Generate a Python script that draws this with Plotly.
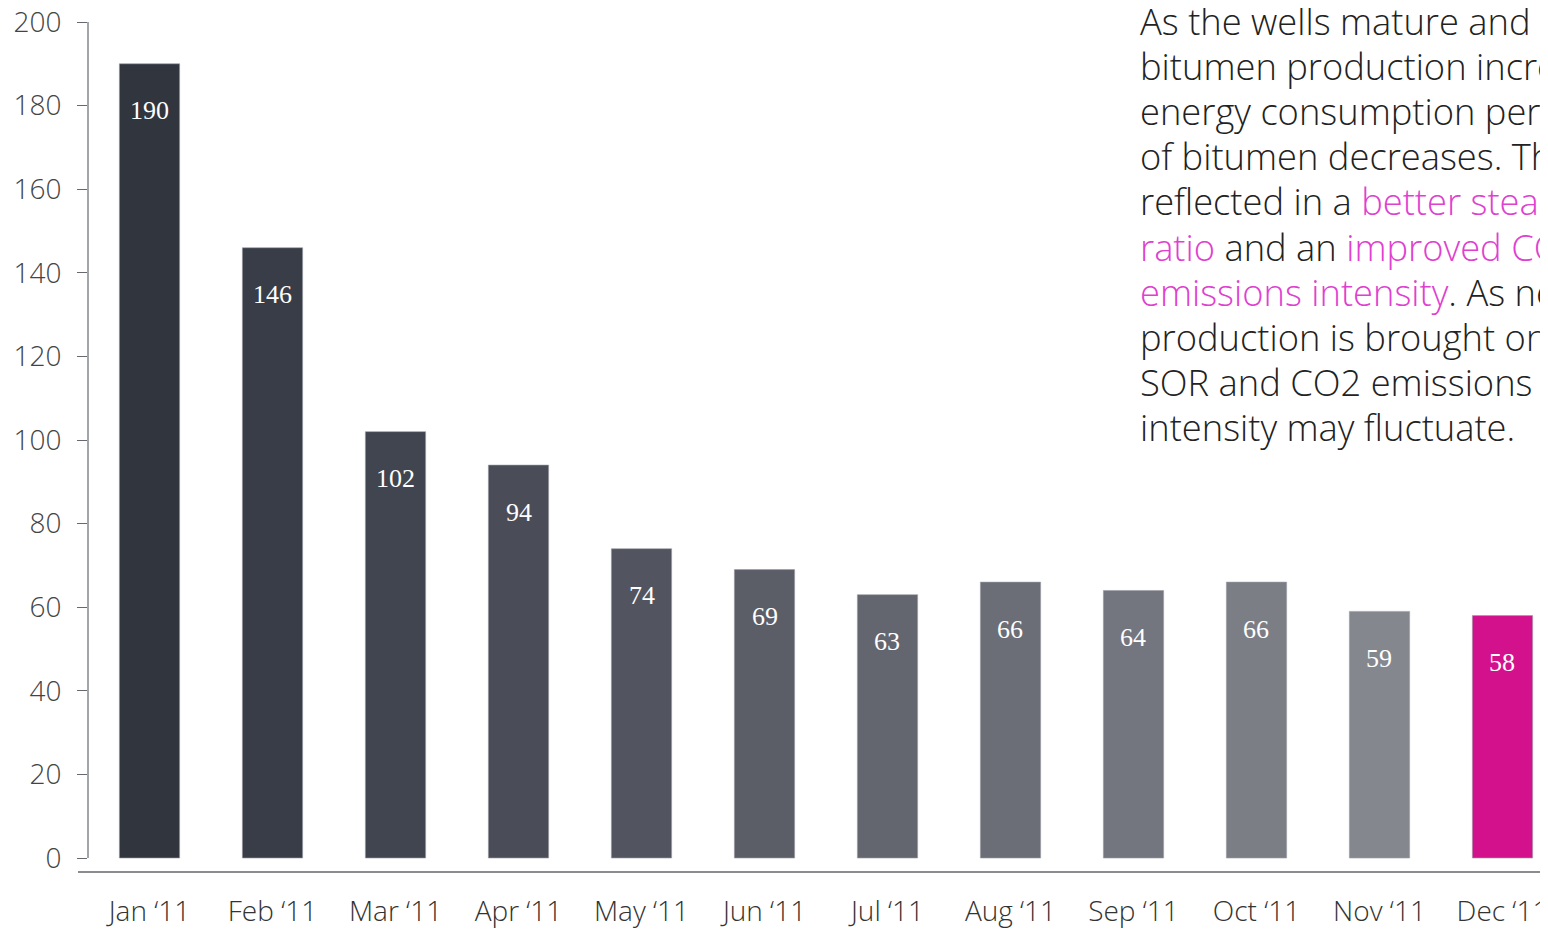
import plotly.graph_objects as go

months = ["Jan ‘11", "Feb ‘11", "Mar ‘11", "Apr ‘11", "May ‘11", "Jun ‘11",
          "Jul ‘11", "Aug ‘11", "Sep ‘11", "Oct ‘11", "Nov ‘11", "Dec ‘11"]
values = [190, 146, 102, 94, 74, 69, 63, 66, 64, 66, 59, 58]
bar_colors = ["#31353e", "#393d47", "#41454f", "#4a4d57", "#52555f", "#5b5d67",
              "#63666e", "#6b6e76", "#73767e", "#7c7e86", "#85878f", "#d4118d"]
y_ticks = [0, 20, 40, 60, 80, 100, 120, 140, 160, 180, 200]

PINK = "#e040d0"
def pink(s):
    return f"<span style='color:{PINK}'>{s}</span>"

text_lines = [
    "As the wells mature and",
    "bitumen production increases,",
    "energy consumption per barrel",
    "of bitumen decreases. This is",
    "reflected in a " + pink("better steam-to-oil"),
    pink("ratio") + " and an " + pink("improved CO2"),
    pink("emissions intensity") + ". As new",
    "production is brought online,",
    "SOR and CO2 emissions",
    "intensity may fluctuate.",
]

# page offset (browser body margin) compensation
OFF = 8
W, H = 1548 - OFF, 931 - OFF
PLOT_TOP, PLOT_BOT, PLOT_LEFT = 22, 872, 88  # page pixels
PLOT_H = PLOT_BOT - PLOT_TOP
PLOT_W = W - (PLOT_LEFT - OFF)

def py(page_y):
    return (PLOT_BOT - page_y) / PLOT_H

def px(page_x):
    return (page_x - PLOT_LEFT) / PLOT_W

fig = go.Figure()
fig.add_trace(go.Bar(
    x=months, y=values, width=0.49,
    marker=dict(color=bar_colors, line=dict(color="#9a9ca4", width=0.6)),
    hoverinfo="x+y", showlegend=False,
))

annotations = []
for m, v in zip(months, values):
    annotations.append(dict(
        x=m, y=v, xref="x", yref="y", text=str(v), showarrow=False,
        yshift=-47, font=dict(family="Liberation Serif", size=26, color="white"),
    ))

for i, line in enumerate(text_lines):
    annotations.append(dict(
        xref="paper", yref="paper", x=px(1138), y=py(21 + i * 45.1),
        xanchor="left", yanchor="middle", align="left", showarrow=False,
        text=line,
        font=dict(family="Open Sans", size=36.3, color="#222222", weight=300),
    ))

shapes = [
    dict(type="line", xref="paper", yref="y", x0=0, x1=0, y0=0, y1=200,
         line=dict(color="#666a70", width=1.2)),
    dict(type="line", xref="paper", yref="paper", x0=-10 / PLOT_W, x1=1.05, y0=0, y1=0,
         line=dict(color="#8a8c92", width=2)),
]

fig.update_layout(
    width=W, height=H,
    margin=dict(l=PLOT_LEFT - OFF, r=0, t=PLOT_TOP - OFF, b=H - (PLOT_BOT - OFF),
                pad=0, autoexpand=False),
    paper_bgcolor="white", plot_bgcolor="white",
    annotations=annotations, shapes=shapes,
    xaxis=dict(
        range=[-0.5, 11.37], showgrid=False, zeroline=False, showline=False,
        ticks="", ticklabelstandoff=20, automargin=False,
        tickfont=dict(family="Open Sans", size=28, color="#333333", weight=300),
    ),
    yaxis=dict(
        range=[-3.35, 200], tickvals=y_ticks, showgrid=False, zeroline=False,
        showline=False, ticks="outside", ticklen=10, tickcolor="#666a70", tickwidth=1.2,
        ticklabelstandoff=10, ticklabeloverflow="allow", automargin=False,
        tickfont=dict(family="Open Sans", size=28, color="#444444", weight=300),
    ),
    bargap=0.5,
)

fig.write_html("out.html")
